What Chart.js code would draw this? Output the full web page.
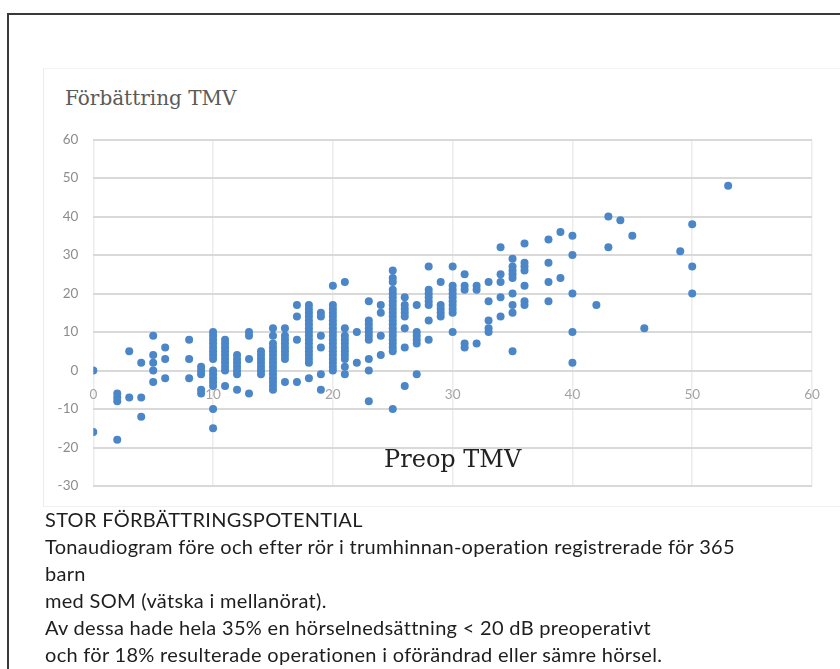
<!DOCTYPE html>
<html>
<head>
<meta charset="utf-8">
<script src="https://cdn.jsdelivr.net/npm/chart.js@4.4.1/dist/chart.umd.min.js"></script>
<style>
  html, body { margin: 0; padding: 0; background: #fff; }
  body { width: 840px; height: 669px; overflow: hidden; position: relative; }
  #frame { position: absolute; left: 7px; top: 13px; width: 850px; height: 680px; border-left: 2px solid #3a3a3a; border-top: 2px solid #3a3a3a; }
  #panel { position: absolute; left: 43px; top: 68px; width: 820px; height: 437px; border-left: 1px solid #ececec; border-top: 1px solid #f4f4f4; border-bottom: 1px solid #f0f0f0; }
  #title { position: absolute; left: 65px; top: 86px; font: 20px 'DejaVu Serif', serif; line-height: 24px; color: #5a5a5a; }
  #wrap { position: absolute; left: 0; top: 0; width: 840px; height: 669px; }
  #caption { position: absolute; left: 45px; top: 506px; font: 20px Lato, sans-serif; letter-spacing: 0.3px; line-height: 27px; color: #1e1e1e; z-index: 2; }
</style>
</head>
<body>
<div id="frame"></div>
<div id="panel"></div>
<div id="title">Förbättring TMV</div>
<div id="wrap"><canvas id="chart"></canvas></div>
<div id="caption">
  STOR FÖRBÄTTRINGSPOTENTIAL<br>
  Tonaudiogram före och efter rör i trumhinnan-operation registrerade för 365<br>
  barn<br>
  med SOM (vätska i mellanörat).<br>
  Av dessa hade hela 35% en hörselnedsättning &lt; 20 dB preoperativt<br>
  och för 18% resulterade operationen i oförändrad eller sämre hörsel.
</div>
<script>
// Preop TMV (x) and improvement (y)
const preopX = [0, 2, 3, 4, 5, 6, 8, 9, 10, 11, 12, 13, 14, 15, 16, 17, 18, 19, 20, 21, 22, 23, 24, 25,
  26, 27, 28, 29, 30, 31, 32, 33, 34, 35, 36, 38, 39, 40, 42, 43, 44, 45, 46, 49, 50, 53];
const improvement = [
  [0, -16],
  [-6, -7, -8, -18],
  [5, -7],
  [2, -7, -12],
  [9, 4, 2, 0, -3],
  [6, 3, -2],
  [8, 3, -2],
  [1, 0, -1, -5, -6],
  [10, 9, 8, 7, 6, 5, 4, 3, 0, -1, -2, -3, -4, -10, -15],
  [8, 7, 6, 5, 4, 3, 2, 1, 0, -4],
  [4, 3, 2, 1, 0, -1, -5],
  [10, 9, 3, -6],
  [5, 4, 3, 2, 1, 0, -1],
  [11, 9, 7, 6, 5, 4, 3, 2, 1, 0, -1, -2, -3, -4, -5],
  [11, 9, 8, 7, 6, 5, 4, 3, -3],
  [17, 14, 8, -3],
  [17, 16, 15, 14, 13, 12, 11, 10, 9, 8, 7, 6, 5, 4, 3, 2, -2],
  [15, 14, 9, 6, -1, -5],
  [22, 17, 16, 15, 14, 13, 12, 11, 10, 9, 8, 7, 6, 5, 4, 3, 2, 1, 0],
  [23, 11, 9, 8, 7, 6, 5, 4, 3, 1, -1],
  [10, 2],
  [18, 13, 12, 11, 10, 9, 8, 3, 0, -8],
  [17, 15, 9, 4],
  [26, 24, 23, 21, 20, 19, 18, 17, 16, 15, 14, 13, 12, 11, 10, 9, 8, 7, 6, 5, -10],
  [19, 17, 16, 15, 14, 11, 6, -4],
  [17, 10, 9, 8, 7, -1],
  [27, 21, 20, 19, 18, 17, 13, 8],
  [23, 17, 16, 15, 14],
  [27, 22, 21, 20, 19, 18, 17, 16, 15, 10],
  [25, 22, 21, 7, 6],
  [22, 21, 7],
  [23, 18, 13, 11, 10],
  [32, 25, 23, 19, 14],
  [29, 27, 26, 25, 24, 20, 17, 15, 5],
  [33, 28, 27, 26, 22, 18, 17],
  [34, 28, 23, 18],
  [36, 24],
  [35, 30, 20, 10, 2],
  [17],
  [40, 32],
  [39],
  [35],
  [11],
  [31],
  [38, 27, 20],
  [48],
];
const xTicks = [0, 10, 20, 30, 40, 50, 60];
const yTicks = [-30, -20, -10, 0, 10, 20, 30, 40, 50, 60];

const points = [];
preopX.forEach((x, i) => {
  improvement[i].forEach((y) => points.push({ x, y }));
});

new Chart(document.getElementById("chart"), {
  type: "scatter",
  data: {
    datasets: [{
      label: "Förbättring TMV",
      data: points,
      backgroundColor: "#4a86c8",
      borderWidth: 0,
      pointRadius: 4,
    }],
  },
  options: {
    responsive: true,
    maintainAspectRatio: false,
    animation: false,
    events: [],
    layout: { padding: { left: 45, right: 28, top: 139.5, bottom: 183 } },
    plugins: {
      legend: { display: false },
      tooltip: { enabled: false },
    },
    scales: {
      x: {
        type: "linear",
        position: { y: 0 },
        min: 0,
        max: 60,
        afterBuildTicks: (s) => { s.ticks = xTicks.map((v) => ({ value: v })); },
        afterFit: (s) => { s.height = 120; },
        ticks: { color: "#a3a3a3", font: { family: "Lato", size: 13.5 }, padding: 16, maxRotation: 0 },
        grid: { color: "#ececec", lineWidth: 1.5, drawTicks: false },
        border: { display: false },
        title: {
          display: true,
          text: "Preop TMV",
          color: "#222",
          font: { family: "'DejaVu Serif', serif", size: 24 },
          padding: { top: 0, bottom: 15 },
        },
      },
      y: {
        type: "linear",
        min: -30,
        max: 60,
        afterBuildTicks: (s) => { s.ticks = yTicks.map((v) => ({ value: v })); },
        afterFit: (s) => { s.width = 48.3; },
        ticks: { color: "#8c8c8c", font: { family: "Lato", size: 13.5 }, padding: 15 },
        grid: { color: "#d9d9d9", lineWidth: 2, drawTicks: false },
        border: { display: false },
      },
    },
  },
});
</script>
</body>
</html>
